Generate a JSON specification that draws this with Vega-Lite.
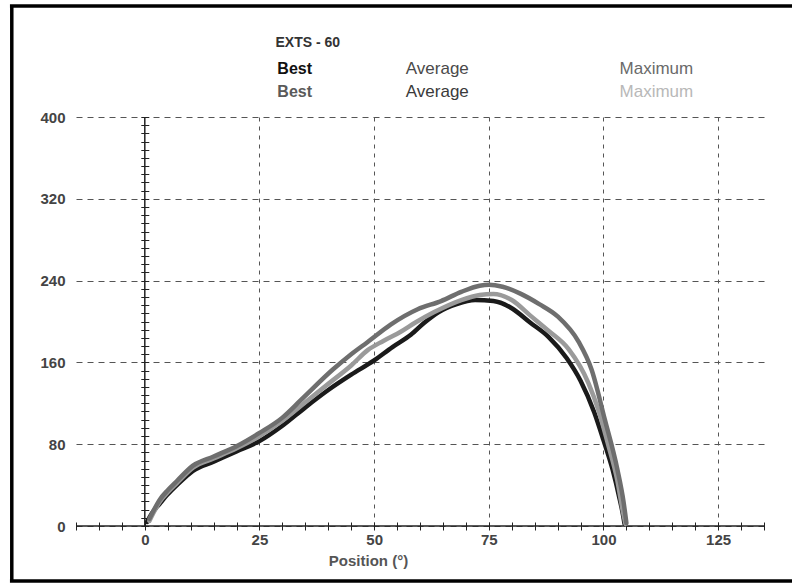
{
  "$schema": "https://vega.github.io/schema/vega-lite/v6.json",
  "width": 688,
  "height": 409,
  "autosize": {"type": "none"},
  "padding": {"left": 76, "top": 117, "right": 28, "bottom": 58},
  "background": "white",
  "config": {"view": {"stroke": null}, "font": "Liberation Sans"},
  "datasets": {
    "curves": [
      {"series": "Best", "pos": 0.5, "val": 4}, {"series": "Best", "pos": 1.5, "val": 12}, {"series": "Best", "pos": 3.3, "val": 22}, {"series": "Best", "pos": 5, "val": 31}, {"series": "Best", "pos": 7, "val": 40}, {"series": "Best", "pos": 10.5, "val": 54}, {"series": "Best", "pos": 15, "val": 63}, {"series": "Best", "pos": 20, "val": 73}, {"series": "Best", "pos": 25, "val": 83}, {"series": "Best", "pos": 30, "val": 98}, {"series": "Best", "pos": 35, "val": 116}, {"series": "Best", "pos": 40, "val": 133}, {"series": "Best", "pos": 45, "val": 148}, {"series": "Best", "pos": 50, "val": 162}, {"series": "Best", "pos": 54, "val": 175}, {"series": "Best", "pos": 58, "val": 187}, {"series": "Best", "pos": 61, "val": 199}, {"series": "Best", "pos": 64, "val": 209}, {"series": "Best", "pos": 68, "val": 217}, {"series": "Best", "pos": 72, "val": 221}, {"series": "Best", "pos": 76, "val": 220}, {"series": "Best", "pos": 80, "val": 213}, {"series": "Best", "pos": 84, "val": 199}, {"series": "Best", "pos": 88, "val": 185}, {"series": "Best", "pos": 92, "val": 164}, {"series": "Best", "pos": 95, "val": 142}, {"series": "Best", "pos": 98, "val": 111}, {"series": "Best", "pos": 100, "val": 84}, {"series": "Best", "pos": 102, "val": 55}, {"series": "Best", "pos": 103.5, "val": 27}, {"series": "Best", "pos": 104.3, "val": 10}, {"series": "Best", "pos": 104.6, "val": 2},
      {"series": "Average", "pos": 1, "val": 5}, {"series": "Average", "pos": 3.3, "val": 24}, {"series": "Average", "pos": 5, "val": 33}, {"series": "Average", "pos": 7, "val": 42}, {"series": "Average", "pos": 10.5, "val": 57}, {"series": "Average", "pos": 15, "val": 66}, {"series": "Average", "pos": 20, "val": 76}, {"series": "Average", "pos": 25, "val": 88}, {"series": "Average", "pos": 30, "val": 103}, {"series": "Average", "pos": 35, "val": 121}, {"series": "Average", "pos": 40, "val": 139}, {"series": "Average", "pos": 45, "val": 157}, {"series": "Average", "pos": 48.6, "val": 172}, {"series": "Average", "pos": 52, "val": 181}, {"series": "Average", "pos": 55.8, "val": 190}, {"series": "Average", "pos": 59, "val": 199}, {"series": "Average", "pos": 63, "val": 209}, {"series": "Average", "pos": 69, "val": 221}, {"series": "Average", "pos": 73, "val": 226}, {"series": "Average", "pos": 76, "val": 227}, {"series": "Average", "pos": 80, "val": 221}, {"series": "Average", "pos": 84, "val": 206}, {"series": "Average", "pos": 88, "val": 191}, {"series": "Average", "pos": 92.4, "val": 173}, {"series": "Average", "pos": 96.7, "val": 140}, {"series": "Average", "pos": 99, "val": 112}, {"series": "Average", "pos": 101, "val": 80}, {"series": "Average", "pos": 103, "val": 45}, {"series": "Average", "pos": 104.2, "val": 15}, {"series": "Average", "pos": 104.8, "val": 2},
      {"series": "Maximum", "pos": 1, "val": 7}, {"series": "Maximum", "pos": 3.3, "val": 26}, {"series": "Maximum", "pos": 5, "val": 35}, {"series": "Maximum", "pos": 7, "val": 44}, {"series": "Maximum", "pos": 10.5, "val": 59}, {"series": "Maximum", "pos": 15, "val": 68}, {"series": "Maximum", "pos": 20, "val": 78}, {"series": "Maximum", "pos": 25, "val": 91}, {"series": "Maximum", "pos": 30, "val": 106}, {"series": "Maximum", "pos": 34, "val": 123}, {"series": "Maximum", "pos": 41, "val": 153}, {"series": "Maximum", "pos": 45, "val": 168}, {"series": "Maximum", "pos": 48.6, "val": 180}, {"series": "Maximum", "pos": 53.6, "val": 197}, {"series": "Maximum", "pos": 59.5, "val": 212}, {"series": "Maximum", "pos": 64.6, "val": 220}, {"series": "Maximum", "pos": 69, "val": 229}, {"series": "Maximum", "pos": 73, "val": 235}, {"series": "Maximum", "pos": 75, "val": 236}, {"series": "Maximum", "pos": 78, "val": 234}, {"series": "Maximum", "pos": 82, "val": 227}, {"series": "Maximum", "pos": 86, "val": 217}, {"series": "Maximum", "pos": 90, "val": 205}, {"series": "Maximum", "pos": 94.6, "val": 180}, {"series": "Maximum", "pos": 97.4, "val": 153}, {"series": "Maximum", "pos": 100.3, "val": 104}, {"series": "Maximum", "pos": 103, "val": 56}, {"series": "Maximum", "pos": 104.4, "val": 23}, {"series": "Maximum", "pos": 105, "val": 3}
    ],
    "header": [
      {"label": "EXTS - 60", "hx": 28.5, "hy": 472, "tone": "hTitle", "kind": "title"},
      {"label": "Best", "hx": 28.9, "hy": 447, "tone": "h1Best", "kind": "bold"},
      {"label": "Average", "hx": 56.9, "hy": 447, "tone": "h1Average", "kind": "plain"},
      {"label": "Maximum", "hx": 103.5, "hy": 447, "tone": "h1Maximum", "kind": "plain"},
      {"label": "Best", "hx": 28.9, "hy": 424, "tone": "h2Best", "kind": "bold"},
      {"label": "Average", "hx": 56.9, "hy": 424, "tone": "h2Average", "kind": "plain"},
      {"label": "Maximum", "hx": 103.5, "hy": 424, "tone": "h2Maximum", "kind": "plain"}
    ]
  },
  "resolve": {"axis": {"x": "independent", "y": "independent"}},
  "layer": [
    {
      "data": {"values": [{}]},
      "mark": {"type": "rule", "color": "#222", "strokeWidth": 1.5},
      "encoding": {
        "x": {"datum": 0, "type": "quantitative", "scale": {"domain": [-15, 135], "nice": false, "zero": false},
          "axis": {"orient": "bottom", "values": [25, 50, 75, 100, 125], "grid": true, "gridDash": [4, 5], "gridColor": "#555", "gridOpacity": 1, "gridWidth": 1, "labels": false, "ticks": false, "domain": false, "title": null}},
        "y": {"datum": 0, "type": "quantitative", "scale": {"domain": [0, 400], "nice": false},
          "axis": {"orient": "left", "values": [0, 80, 160, 240, 320, 400], "grid": true, "gridDash": [6, 5], "gridColor": "#555", "gridOpacity": 1, "gridWidth": 1, "ticks": false, "tickSize": 0, "domain": false, "labelPadding": 11, "labelFont": "Liberation Sans", "labelFontSize": 15, "labelFontWeight": "bold", "labelColor": "#444", "title": null}},
        "y2": {"datum": 400}
      }
    },
    {
      "data": {"values": [{}]},
      "mark": {"type": "rule", "color": "#222", "strokeWidth": 1.5},
      "encoding": {
        "x": {"datum": -15, "type": "quantitative", "scale": {"domain": [-15, 135], "nice": false, "zero": false},
          "axis": {"orient": "bottom", "offset": -4, "values": [-15, -10, -5, 0, 5, 10, 15, 20, 25, 30, 35, 40, 45, 50, 55, 60, 65, 70, 75, 80, 85, 90, 95, 100, 105, 110, 115, 120, 125, 130, 135], "grid": false, "domain": false, "ticks": true, "tickSize": 8, "tickColor": "#222", "tickWidth": 1, "labelExpr": "(datum.value % 25 === 0 && datum.value >= 0) ? datum.label : ''", "labelOverlap": false, "labelFlush": false, "labelPadding": 2, "labelFont": "Liberation Sans", "labelFontSize": 15, "labelFontWeight": "bold", "labelColor": "#444", "title": "Position (°)", "titleFont": "Liberation Sans", "titleFontSize": 15, "titleFontWeight": "bold", "titleColor": "#555", "titleX": 292, "titleY": 31, "titleAlign": "center", "titleBaseline": "top", "titleAnchor": null}},
        "x2": {"datum": 135},
        "y": {"datum": 0, "type": "quantitative", "scale": {"domain": [0, 400], "nice": false},
          "axis": {"orient": "left", "offset": -72.8, "values": [0, 8, 16, 24, 32, 40, 48, 56, 64, 72, 80, 88, 96, 104, 112, 120, 128, 136, 144, 152, 160, 168, 176, 184, 192, 200, 208, 216, 224, 232, 240, 248, 256, 264, 272, 280, 288, 296, 304, 312, 320, 328, 336, 344, 352, 360, 368, 376, 384, 392, 400], "grid": false, "domain": false, "labels": false, "ticks": true, "tickSize": 8, "tickColor": "#222", "tickWidth": 1, "title": null}}
      }
    },
    {
      "data": {"name": "curves"},
      "mark": {"type": "line", "strokeWidth": 4.5, "interpolate": "monotone", "strokeCap": "round", "strokeJoin": "round"},
      "encoding": {
        "x": {"field": "pos", "type": "quantitative", "scale": {"domain": [-15, 135], "nice": false, "zero": false}, "axis": null},
        "y": {"field": "val", "type": "quantitative", "scale": {"domain": [0, 400], "nice": false}, "axis": null},
        "color": {"field": "series", "type": "nominal", "legend": null,
          "scale": {"domain": ["Best", "Average", "Maximum", "hTitle", "h1Best", "h1Average", "h1Maximum", "h2Best", "h2Average", "h2Maximum"], "range": ["#1a1a1a", "#9a9a9a", "#6e6e6e", "#333333", "#111111", "#4a4a4a", "#6a6a6a", "#5a5a5a", "#3a3a3a", "#b8b8b8"]}},
        "order": {"field": "pos", "type": "quantitative"}
      }
    },
    {
      "data": {"name": "header"},
      "transform": [{"filter": "datum.kind === 'title'"}],
      "mark": {"type": "text", "align": "left", "baseline": "middle", "font": "Liberation Sans", "fontSize": 14, "fontWeight": "bold"},
      "encoding": {
        "x": {"field": "hx", "type": "quantitative", "scale": {"domain": [-15, 135], "nice": false, "zero": false}, "axis": null},
        "y": {"field": "hy", "type": "quantitative", "scale": {"domain": [0, 400], "nice": false}, "axis": null},
        "text": {"field": "label"},
        "color": {"field": "tone", "type": "nominal", "legend": null,
          "scale": {"domain": ["Best", "Average", "Maximum", "hTitle", "h1Best", "h1Average", "h1Maximum", "h2Best", "h2Average", "h2Maximum"], "range": ["#1a1a1a", "#9a9a9a", "#6e6e6e", "#333333", "#111111", "#4a4a4a", "#6a6a6a", "#5a5a5a", "#3a3a3a", "#b8b8b8"]}}
      }
    },
    {
      "data": {"name": "header"},
      "transform": [{"filter": "datum.kind === 'bold'"}],
      "mark": {"type": "text", "align": "left", "baseline": "middle", "font": "Liberation Sans", "fontSize": 16, "fontWeight": "bold"},
      "encoding": {
        "x": {"field": "hx", "type": "quantitative", "scale": {"domain": [-15, 135], "nice": false, "zero": false}, "axis": null},
        "y": {"field": "hy", "type": "quantitative", "scale": {"domain": [0, 400], "nice": false}, "axis": null},
        "text": {"field": "label"},
        "color": {"field": "tone", "type": "nominal", "legend": null,
          "scale": {"domain": ["Best", "Average", "Maximum", "hTitle", "h1Best", "h1Average", "h1Maximum", "h2Best", "h2Average", "h2Maximum"], "range": ["#1a1a1a", "#9a9a9a", "#6e6e6e", "#333333", "#111111", "#4a4a4a", "#6a6a6a", "#5a5a5a", "#3a3a3a", "#b8b8b8"]}}
      }
    },
    {
      "data": {"name": "header"},
      "transform": [{"filter": "datum.kind === 'plain'"}],
      "mark": {"type": "text", "align": "left", "baseline": "middle", "font": "Liberation Sans", "fontSize": 17, "fontWeight": "normal"},
      "encoding": {
        "x": {"field": "hx", "type": "quantitative", "scale": {"domain": [-15, 135], "nice": false, "zero": false}, "axis": null},
        "y": {"field": "hy", "type": "quantitative", "scale": {"domain": [0, 400], "nice": false}, "axis": null},
        "text": {"field": "label"},
        "color": {"field": "tone", "type": "nominal", "legend": null,
          "scale": {"domain": ["Best", "Average", "Maximum", "hTitle", "h1Best", "h1Average", "h1Maximum", "h2Best", "h2Average", "h2Maximum"], "range": ["#1a1a1a", "#9a9a9a", "#6e6e6e", "#333333", "#111111", "#4a4a4a", "#6a6a6a", "#5a5a5a", "#3a3a3a", "#b8b8b8"]}}
      }
    },
    {
      "data": {"values": [{}]},
      "mark": {"type": "rule", "color": "#000", "strokeWidth": 3.5},
      "encoding": {
        "x": {"datum": -29, "type": "quantitative", "scale": {"domain": [-15, 135], "nice": false, "zero": false}, "axis": null},
        "y": {"datum": -53.8, "type": "quantitative", "scale": {"domain": [0, 400], "nice": false}, "axis": null},
        "y2": {"datum": 508.6}
      }
    },
    {
      "data": {"values": [{}]},
      "mark": {"type": "rule", "color": "#000", "strokeWidth": 3.5},
      "encoding": {
        "x": {"datum": -29.4, "type": "quantitative", "scale": {"domain": [-15, 135], "nice": false, "zero": false}, "axis": null},
        "x2": {"datum": 150},
        "y": {"datum": 508.6, "type": "quantitative", "scale": {"domain": [0, 400], "nice": false}, "axis": null}
      }
    },
    {
      "data": {"values": [{}]},
      "mark": {"type": "rule", "color": "#000", "strokeWidth": 3.5},
      "encoding": {
        "x": {"datum": -29.4, "type": "quantitative", "scale": {"domain": [-15, 135], "nice": false, "zero": false}, "axis": null},
        "x2": {"datum": 150},
        "y": {"datum": -53.8, "type": "quantitative", "scale": {"domain": [0, 400], "nice": false}, "axis": null}
      }
    }
  ]
}
